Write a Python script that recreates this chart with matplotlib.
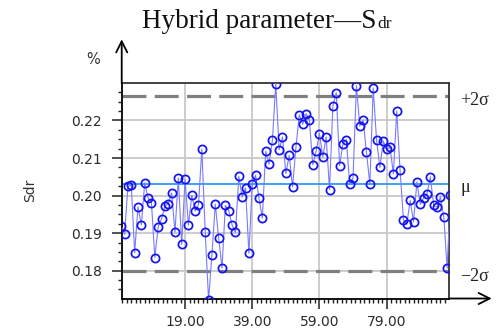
import matplotlib
matplotlib.use('Agg')
import matplotlib.pyplot as plt
from matplotlib.ticker import FixedLocator, MultipleLocator, FormatStrFormatter
import matplotlib.transforms as mtransforms
import numpy as np

# ---------------- data ----------------
sdr_values = [
    0.1919, 0.1897, 0.2025, 0.2027, 0.1848, 0.1970, 0.1922, 0.2034, 0.1994, 0.1981,
    0.1835, 0.1917, 0.1938, 0.1972, 0.1978, 0.2007, 0.1903, 0.2047, 0.1870, 0.2043,
    0.1921, 0.2001, 0.1959, 0.1976, 0.2124, 0.1904, 0.1722, 0.1843, 0.1977, 0.1888,
    0.1807, 0.1974, 0.1960, 0.1922, 0.1902, 0.2051, 0.1996, 0.2021, 0.1846, 0.2032,
    0.2054, 0.1994, 0.1940, 0.2118, 0.2084, 0.2147, 0.2298, 0.2122, 0.2156, 0.2059,
    0.2107, 0.2023, 0.2129, 0.2215, 0.2190, 0.2218, 0.2202, 0.2082, 0.2118, 0.2165,
    0.2103, 0.2156, 0.2016, 0.2239, 0.2274, 0.2080, 0.2138, 0.2149, 0.2031, 0.2047,
    0.2293, 0.2185, 0.2201, 0.2115, 0.2030, 0.2286, 0.2147, 0.2075, 0.2145, 0.2123,
    0.2129, 0.2058, 0.2225, 0.2067, 0.1935, 0.1924, 0.1987, 0.1930, 0.2036, 0.1977,
    0.1994, 0.2004, 0.2050, 0.1974, 0.1969, 0.1997, 0.1944, 0.1807, 0.2002,
]
sample_index = list(range(len(sdr_values)))

mean_value = 0.2032
upper_2sigma = 0.2265
lower_2sigma = 0.1799

x_major_ticks = [19, 39, 59, 79]
y_major_ticks = [0.18, 0.19, 0.20, 0.21, 0.22]
limit_labels = ['+2\u03c3', '\u03bc', '\u22122\u03c3']

title_main = 'Hybrid parameter\u2014S'
title_sub = 'dr'
y_label = 'Sdr'
unit_label = '%'

# ---------------- figure ----------------
fig = plt.figure(figsize=(5.04, 3.36), dpi=100)
ax = fig.add_axes([0.2415, 0.1116, 0.650, 0.6405])
ax.set_xlim(0.15, 97.65)
ax.set_ylim(0.1726, 0.2299)

# grid
ax.set_axisbelow(True)
ax.xaxis.set_major_locator(FixedLocator(x_major_ticks))
ax.yaxis.set_major_locator(FixedLocator(y_major_ticks))
ax.grid(True, which='major', color='#c8c8c8', lw=1.3)

# minor ticks
x_minor = [x_major_ticks[0] + k * 4.0 / 3.0 for k in range(-15, 60)]
ax.xaxis.set_minor_locator(FixedLocator(x_minor))
ax.yaxis.set_minor_locator(MultipleLocator(0.0025))
ax.xaxis.set_major_formatter(FormatStrFormatter('%.2f'))
ax.yaxis.set_major_formatter(FormatStrFormatter('%.2f'))

ax.tick_params(axis='both', which='major', length=7.2, width=1.1, color='#222222',
               labelsize=10, labelcolor='#2b2b2b', direction='out')
ax.tick_params(axis='both', which='minor', length=3.2, width=1.0, color='#222222',
               direction='out')
ax.tick_params(axis='x', which='major', pad=4.5)
ax.tick_params(axis='y', which='major', pad=7)

for side in ['top', 'right']:
    ax.spines[side].set_color('#333333')
    ax.spines[side].set_linewidth(1.3)
for side in ['left', 'bottom']:
    ax.spines[side].set_color('black')
    ax.spines[side].set_linewidth(1.3)

# control lines
ax.axhline(upper_2sigma, color='#7f7f7f', lw=2.3, linestyle=(0, (7.5, 2.6)), zorder=2)
ax.axhline(lower_2sigma, color='#7f7f7f', lw=2.3, linestyle=(0, (7.5, 2.6)), zorder=2)
ax.axhline(mean_value, color='#1e90ff', lw=1.2, zorder=2)

# data
ax.plot(sample_index, sdr_values, color='#7a7aff', lw=0.8, zorder=3)
ax.plot(sample_index, sdr_values, linestyle='none', marker='o', ms=5.9,
        mfc='none', mec='#1414f0', mew=1.25, zorder=4)

# limit labels on the right
trans = mtransforms.blended_transform_factory(ax.transAxes, ax.transData)
for lab, val, dy in zip(limit_labels, [upper_2sigma, mean_value, lower_2sigma], [-4, -4, -5]):
    t = mtransforms.offset_copy(trans, fig=fig, x=0, y=dy, units='dots')
    ax.text(1.033, val, lab, transform=t, ha='left', va='center',
            fontsize=13, family='Liberation Serif', color='#222222', clip_on=False)

# axis arrows
ax.annotate('', xy=(0, 1.2045), xytext=(0, 1.0), xycoords='axes fraction',
            textcoords='axes fraction', annotation_clip=False,
            arrowprops=dict(arrowstyle='->', lw=1.3, color='black',
                            mutation_scale=20, shrinkA=0, shrinkB=0))
ax.annotate('', xy=(1.1294, 0), xytext=(1.0, 0), xycoords='axes fraction',
            textcoords='axes fraction', annotation_clip=False,
            arrowprops=dict(arrowstyle='->', lw=1.3, color='black',
                            mutation_scale=20, shrinkA=0, shrinkB=0))

# labels
fig.text(30 / 504, 1 - 190 / 336, y_label, rotation=90, ha='center', va='center',
         fontsize=10, color='#333333')
fig.text(93 / 504, 1 - 59 / 336, unit_label, ha='center', va='center',
         fontsize=10.5, color='#333333')

# title with small "dr"
t_main = fig.text(141.7 / 504, 1 - 28.3 / 336, title_main, ha='left', va='baseline',
                  fontsize=19.5, family='Liberation Serif', color='#111111')
fig.canvas.draw()
bb = t_main.get_window_extent(renderer=fig.canvas.get_renderer())
fig.text(bb.x1 / (fig.dpi * 5.04) + 1 / 504, 1 - 28.3 / 336, title_sub, ha='left',
         va='baseline', fontsize=12.5, family='Liberation Serif', color='#111111')

fig.savefig('out.png', dpi=100)
